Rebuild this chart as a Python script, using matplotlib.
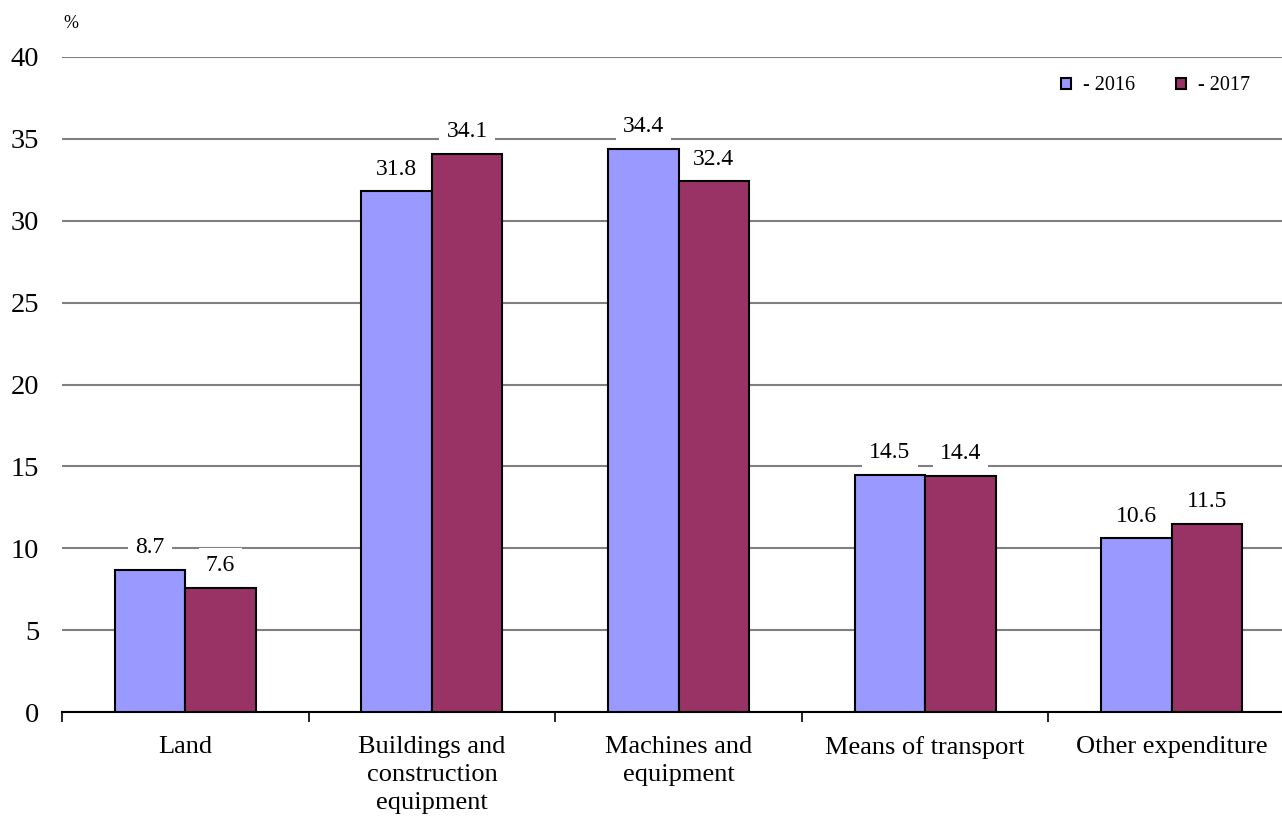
import matplotlib
matplotlib.use("Agg")
import matplotlib.pyplot as plt
import numpy as np

categories = ["Land", "Buildings and\nconstruction\nequipment", "Machines and\nequipment",
              "Means of transport", "Other expenditure"]
values_2016 = [8.7, 31.8, 34.4, 14.5, 10.6]
values_2017 = [7.6, 34.1, 32.4, 14.4, 11.5]
series_labels = ["- 2016", "- 2017"]
y_ticks = [0, 5, 10, 15, 20, 25, 30, 35, 40]

plt.rcParams["font.family"] = ["Liberation Serif", "DejaVu Serif"]

W, H = 1282, 819
fig = plt.figure(figsize=(W / 100, H / 100), dpi=100)
left, right, top, bottom = 62, 1295, 57, 712
ax = fig.add_axes([left / W, 1 - bottom / H, (right - left) / W, (bottom - top) / H])

n = len(categories)
x = np.arange(n) + 0.5
bw = 0.286
c16 = "#9999FF"
c17 = "#993366"

b1 = ax.bar(x - bw / 2, values_2016, bw, color=c16, edgecolor="black", linewidth=1.5,
            label=series_labels[0], zorder=3)
b2 = ax.bar(x + bw / 2, values_2017, bw, color=c17, edgecolor="black", linewidth=1.5,
            label=series_labels[1], zorder=3)

# value labels above each bar, on a white box that interrupts the gridlines
for bars, vals in ((b1, values_2016), (b2, values_2017)):
    for rect, v in zip(bars, vals):
        ax.annotate(f"{v:.1f}", (rect.get_x() + rect.get_width() / 2, v),
                    xytext=(0, 16), textcoords="offset points",
                    ha="center", va="center", fontsize=17, zorder=4,
                    bbox=dict(boxstyle="square,pad=0.3", facecolor="white", edgecolor="none"))

ax.set_xlim(0, n)
ax.set_ylim(0, 40)
ax.set_yticks(y_ticks)
ax.set_yticklabels([str(t) for t in y_ticks], fontsize=20.5)
ax.yaxis.grid(True, color="#808080", linewidth=1.5, zorder=0)
ax.set_axisbelow(True)
ax.tick_params(axis="y", length=0, pad=16.5)

ax.set_xticks(np.arange(n + 1))
ax.set_xticklabels([""] * (n + 1))
ax.set_xticks(x, minor=True)
ax.set_xticklabels(categories, minor=True, fontsize=19, linespacing=1.37)
ax.tick_params(axis="x", which="major", length=7, width=1.2, direction="out", color="black")
ax.tick_params(axis="x", which="minor", length=0, pad=17)

for s in ("top", "right", "left"):
    ax.spines[s].set_visible(False)
ax.spines["bottom"].set_linewidth(1.5)

fig.text(63 / W, 1 - 23 / H, "%", fontsize=13, ha="left", va="center")

leg = fig.legend(handles=[b1, b2], labels=series_labels, loc="center right",
                 bbox_to_anchor=(1268 / W, 1 - 86 / H), bbox_transform=fig.transFigure,
                 ncol=2, frameon=False, fontsize=14.5, handlelength=0.5, handleheight=0.5,
                 columnspacing=2.0, handletextpad=0.6)
for h in leg.legend_handles:
    h.set_linewidth(1.5)

fig.savefig("out.png", dpi=100)
